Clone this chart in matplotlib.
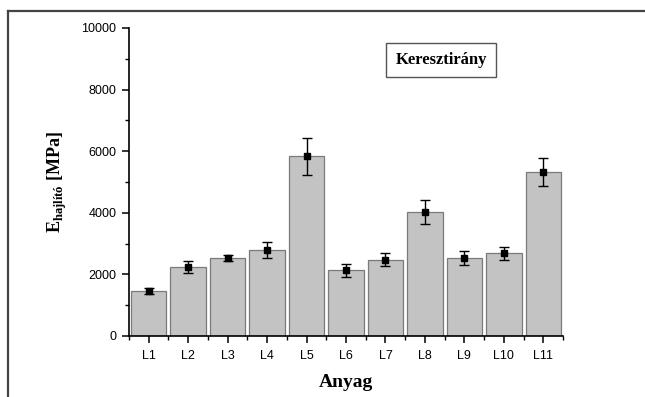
import matplotlib
matplotlib.use('Agg')
import matplotlib.pyplot as plt
from matplotlib.lines import Line2D
from matplotlib.ticker import MultipleLocator, FixedLocator
import numpy as np

# data
anyag = ['L1', 'L2', 'L3', 'L4', 'L5', 'L6', 'L7', 'L8', 'L9', 'L10', 'L11']
e_hajlito = [1460, 2240, 2540, 2790, 5840, 2140, 2480, 4020, 2530, 2690, 5330]
szoras = [100, 210, 100, 265, 600, 210, 205, 385, 215, 215, 455]

plt.rcParams['font.family'] = ['Liberation Sans', 'DejaVu Sans']
plt.rcParams['mathtext.fontset'] = 'custom'
plt.rcParams['mathtext.rm'] = 'Liberation Serif'
plt.rcParams['mathtext.bf'] = 'Liberation Serif:bold'
serif = ['Liberation Serif', 'DejaVu Serif']

fig = plt.figure(figsize=(6.45, 3.97), dpi=100)
ax = fig.add_axes([129 / 645, 1 - 336 / 397, (563 - 129) / 645, (336 - 28) / 397])

x = np.arange(1, len(anyag) + 1)
ax.bar(x, e_hajlito, width=0.9, color='#c3c3c3', edgecolor='#7a7a7a', linewidth=0.9, zorder=2)
ax.errorbar(x, e_hajlito, yerr=szoras, fmt='s', color='black', markersize=4.8,
            ecolor='black', elinewidth=1.0, capsize=3.8, capthick=1.0, zorder=3)

ax.set_xlim(0.5, 11.5)
ax.set_ylim(0, 10000)
ax.set_xticks(x)
ax.set_xticklabels(anyag)
ax.xaxis.set_minor_locator(FixedLocator(np.arange(0.5, 12, 1)))
ax.yaxis.set_major_locator(MultipleLocator(2000))
ax.yaxis.set_minor_locator(MultipleLocator(1000))

for s in ['top', 'right']:
    ax.spines[s].set_visible(False)
for s in ['left', 'bottom']:
    ax.spines[s].set_linewidth(1.2)

ax.tick_params(axis='both', which='major', direction='out', length=5, width=1.1,
               labelsize=9, pad=4)
ax.tick_params(axis='both', which='minor', direction='out', length=3, width=1.0)
ax.tick_params(axis='x', which='major', pad=5)

ax.set_xlabel('Anyag', fontsize=14, fontweight='bold', family=serif, labelpad=9)
ax.set_ylabel(r'$\mathbf{E}_{\mathbf{hajlító}}$ [MPa]', fontsize=13, fontweight='bold',
              family=serif, labelpad=9)

ax.text(0.719, 0.896, 'Keresztirány', transform=ax.transAxes, ha='center', va='center',
        fontsize=12, fontweight='bold', family=serif,
        bbox=dict(boxstyle='square,pad=0.55', facecolor='white', edgecolor='#555555', linewidth=1.0))

# outer frame, cut off at right and bottom
fig.add_artist(Line2D([7.5 / 645, 1.0], [1 - 11 / 397, 1 - 11 / 397], color='#444444', linewidth=1.6))
fig.add_artist(Line2D([7.5 / 645, 7.5 / 645], [0.0, 1 - 11 / 397], color='#444444', linewidth=1.6))

fig.savefig('out.png', dpi=100, facecolor='white')
